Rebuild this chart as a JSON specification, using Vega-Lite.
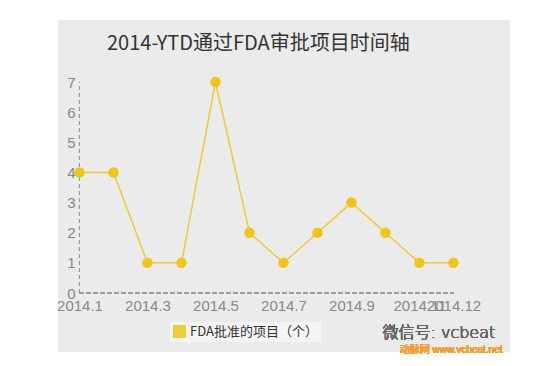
{
  "$schema": "https://vega.github.io/schema/vega-lite/v6.json",
  "autosize": {"type": "none"},
  "width": 452,
  "height": 332,
  "padding": {"left": 58, "top": 20, "right": 39, "bottom": 14},
  "background": "white",
  "config": {
    "view": {"fill": "#ebebeb", "stroke": null},
    "font": "Liberation Sans, Noto Sans CJK SC"
  },
  "title": {
    "text": "2014-YTD通过FDA审批项目时间轴",
    "anchor": "start",
    "frame": "group",
    "dx": 49,
    "offset": -50,
    "baseline": "alphabetic",
    "font": "Noto Sans CJK SC",
    "fontSize": 20,
    "fontWeight": "normal",
    "color": "#333333"
  },
  "data": {
    "values": [
      {"month": 1, "count": 4, "series": "FDA批准的项目（个）"},
      {"month": 2, "count": 4, "series": "FDA批准的项目（个）"},
      {"month": 3, "count": 1, "series": "FDA批准的项目（个）"},
      {"month": 4, "count": 1, "series": "FDA批准的项目（个）"},
      {"month": 5, "count": 7, "series": "FDA批准的项目（个）"},
      {"month": 6, "count": 2, "series": "FDA批准的项目（个）"},
      {"month": 7, "count": 1, "series": "FDA批准的项目（个）"},
      {"month": 8, "count": 2, "series": "FDA批准的项目（个）"},
      {"month": 9, "count": 3, "series": "FDA批准的项目（个）"},
      {"month": 10, "count": 2, "series": "FDA批准的项目（个）"},
      {"month": 11, "count": 1, "series": "FDA批准的项目（个）"},
      {"month": 12, "count": 1, "series": "FDA批准的项目（个）"}
    ]
  },
  "encoding": {
    "x": {
      "field": "month",
      "type": "quantitative",
      "scale": {"domain": [0.368, 13.662], "nice": false, "zero": false},
      "axis": {
        "title": null,
        "offset": -59,
        "domain": false,
        "ticks": false,
        "grid": false,
        "values": [1, 3, 5, 7, 9, 11, 12],
        "labelExpr": "'2014.' + datum.value",
        "labelOverlap": false,
        "labelFlush": false,
        "labelFontSize": 15,
        "labelColor": "#888888",
        "labelPadding": 5
      }
    },
    "y": {
      "field": "count",
      "type": "quantitative",
      "scale": {"domain": [-1.957, 9.057], "nice": false, "zero": false},
      "axis": {
        "title": null,
        "offset": -22,
        "domain": false,
        "ticks": false,
        "grid": false,
        "values": [0, 1, 2, 3, 4, 5, 6, 7],
        "labelFontSize": 15,
        "labelColor": "#888888",
        "labelPadding": 5
      }
    }
  },
  "layer": [
    {
      "mark": {"type": "rule", "color": "#999999", "strokeDash": [4, 3], "strokeWidth": 1},
      "encoding": {
        "x": {"datum": 1, "type": "quantitative"},
        "y": {"datum": 0, "type": "quantitative"},
        "y2": {"datum": 7}
      }
    },
    {
      "mark": {"type": "rule", "color": "#999999", "strokeDash": [4, 3], "strokeWidth": 1},
      "encoding": {
        "y": {"datum": 0, "type": "quantitative"},
        "x": {"datum": 1, "type": "quantitative"},
        "x2": {"datum": 12}
      }
    },
    {
      "mark": {"type": "line", "strokeWidth": 1.5, "opacity": 0.85},
      "encoding": {
        "color": {
          "field": "series",
          "type": "nominal",
          "scale": {"range": ["#f0c419"]},
          "legend": {
            "title": null,
            "orient": "none",
            "legendX": 112,
            "legendY": 302,
            "symbolType": "square",
            "symbolSize": 169,
            "symbolStrokeWidth": 0,
            "labelFontSize": 13,
            "labelColor": "#333333",
            "labelFont": "Noto Sans CJK SC",
            "fillColor": "#f4f4f4",
            "padding": 3
          }
        }
      }
    },
    {
      "mark": {"type": "point", "filled": true, "size": 110, "opacity": 1},
      "encoding": {
        "color": {"field": "series", "type": "nominal"}
      }
    },
    {
      "mark": {"type": "text", "text": "微信号: vcbeat", "font": "DejaVu Sans, Noto Sans CJK SC", "fontSize": 16, "fontWeight": 200, "color": "#666666", "align": "center", "baseline": "middle"},
      "encoding": {
        "x": {"datum": 11.57, "type": "quantitative"},
        "y": {"datum": -1.33, "type": "quantitative"}
      }
    },
    {
      "mark": {"type": "text", "text": "动脉网  www.vcbeat.net", "font": "Liberation Sans, Noto Sans CJK SC", "fontSize": 10, "fontWeight": "normal", "color": "#f0a030", "align": "center", "baseline": "middle"},
      "encoding": {
        "x": {"datum": 11.93, "type": "quantitative"},
        "y": {"datum": -1.89, "type": "quantitative"}
      }
    }
  ]
}
